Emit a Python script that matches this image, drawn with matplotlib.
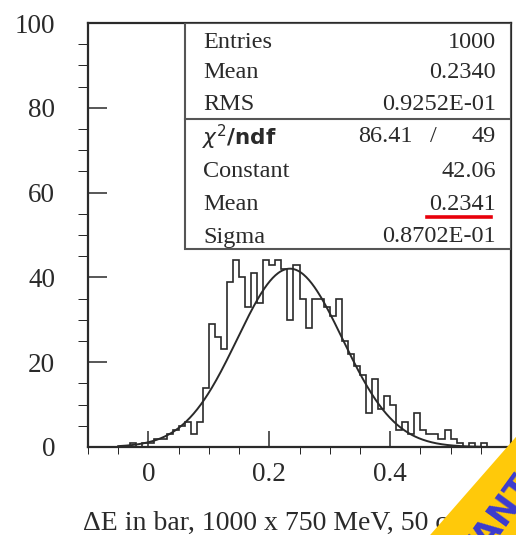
import numpy as np
import matplotlib
matplotlib.use('Agg')
import matplotlib.pyplot as plt
from matplotlib.ticker import MultipleLocator
from matplotlib.patches import Rectangle, Polygon
from matplotlib.lines import Line2D

# histogram: 70 bins of 0.01 from -0.10 to 0.60
bin_lo, bin_hi, bin_w = -0.10, 0.60, 0.01
counts = [0, 0, 0, 0, 0, 0, 0, 1, 0, 1,
          1, 2, 2, 3, 4, 5, 6, 3, 6, 14,
          29, 26, 23, 39, 44, 40, 33, 41, 34, 44,
          43, 44, 42, 30, 43, 35, 28, 35, 35, 33,
          31, 35, 25, 22, 19, 17, 8, 16, 9, 12,
          10, 4, 6, 3, 8, 4, 3, 3, 2, 4,
          2, 1, 0, 1, 0, 1, 0, 0, 0, 0]

# gaussian fit
fit_const, fit_mean, fit_sigma = 42.06, 0.2341, 0.08702
fit_lo, fit_hi = -0.05, 0.55

stat_labels = ['Entries', 'Mean', 'RMS']
stat_values = ['1000', '0.2340', '0.9252E-01']
chi2, ndf = '86.41', '49'
fit_labels = ['Constant', 'Mean', 'Sigma']
fit_values = ['42.06', '0.2341', '0.8702E-01']

xlabel = '\u0394E in bar, 1000 x 750 MeV, 50 cm'
banner = 'IMPORTANT'

W, H = 516, 535
ink = '#2a2a2a'
serif = 'Liberation Serif'
fs_stat = 17.5


def px(x, y):
    return x / W, 1 - y / H


fig = plt.figure(figsize=(W / 100, H / 100), dpi=100)
ax = fig.add_axes([88 / W, 1 - 447 / H, 423 / W, 424 / H])

edges = bin_lo + bin_w * np.arange(len(counts) + 1)
ax.stairs(counts, edges, color=ink, lw=1.2)

xf = np.linspace(fit_lo, fit_hi, 400)
ax.plot(xf, fit_const * np.exp(-0.5 * ((xf - fit_mean) / fit_sigma) ** 2),
        color=ink, lw=1.4)

ax.set_xlim(bin_lo, bin_hi)
ax.set_ylim(0, 100)
ax.set_xticks([0, 0.2, 0.4])
ax.set_xticklabels(['0', '0.2', '0.4'])
ax.xaxis.set_minor_locator(MultipleLocator(0.05))
ax.set_yticks([0, 20, 40, 60, 80, 100])
ax.yaxis.set_minor_locator(MultipleLocator(5))
ax.tick_params(direction='in', top=False, right=False, color=ink,
               labelcolor=ink, labelsize=19.5, width=1.1)
ax.tick_params(axis='x', which='major', length=11.5, pad=10.5)
ax.tick_params(axis='x', which='minor', length=5)
ax.tick_params(axis='y', which='major', length=14, pad=23.5)
ax.tick_params(axis='y', which='minor', length=7)
for lab in ax.get_xticklabels() + ax.get_yticklabels():
    lab.set_family(serif)
for sp in ax.spines.values():
    sp.set_linewidth(1.6)
    sp.set_color(ink)

# stats box
bx0, by0, bsep = (185 - 88) / 423, (447 - 249) / 424, (447 - 119) / 424
ax.add_patch(Rectangle((bx0, by0), 1 - bx0, 1 - by0, transform=ax.transAxes,
                       facecolor='white', edgecolor='#555555', lw=1.5, zorder=5))
ax.plot([bx0, 1], [bsep, bsep], transform=ax.transAxes, color='#555555',
        lw=1.5, zorder=6)

rows_y = [42, 73, 104]
for lab, val, y in zip(stat_labels, stat_values, rows_y):
    fig.text(*px(203, y), lab, family=serif, size=fs_stat, color=ink, va='center')
    fig.text(*px(496, y), val, family=serif, size=fs_stat, color=ink,
             va='center', ha='right')

fig.text(*px(202, 137), r'$\chi^2$/ndf', family='DejaVu Sans', size=15.5,
         weight='bold', color=ink, va='center')
fig.text(*px(413, 137), chi2, family=serif, size=fs_stat, color=ink,
         va='center', ha='right')
fig.text(*px(433, 137), '/', family=serif, size=fs_stat, color=ink,
         va='center', ha='center')
fig.text(*px(496, 137), ndf, family=serif, size=fs_stat, color=ink,
         va='center', ha='right')

rows_y = [171, 204, 237]
for lab, val, y in zip(fit_labels, fit_values, rows_y):
    fig.text(*px(203, y), lab, family=serif, size=fs_stat, color=ink, va='center')
    fig.text(*px(496, y), val, family=serif, size=fs_stat, color=ink,
             va='center', ha='right')

fig.add_artist(Line2D([427 / W, 491 / W], [1 - 217 / H, 1 - 217 / H],
                      transform=fig.transFigure, color='#e8000b', lw=2.6))

fig.text(*px(83, 530), xlabel, family=serif, size=20, color=ink,
         va='baseline', ha='left')

# corner ribbon, drawn over the axis label
tri = Polygon([px(522, 430), px(424, 542), px(522, 542)], closed=True,
              transform=fig.transFigure, facecolor='#ffc90a', edgecolor='none',
              zorder=20)
fig.add_artist(tri)
t = fig.text(*px(527, 477), banner, family='DejaVu Sans', size=25,
             weight='bold', color='#3b3bd0', rotation=54,
             rotation_mode='anchor', ha='right', va='center', zorder=21)
t.set_clip_path(tri)

fig.savefig('out.png', dpi=100)
